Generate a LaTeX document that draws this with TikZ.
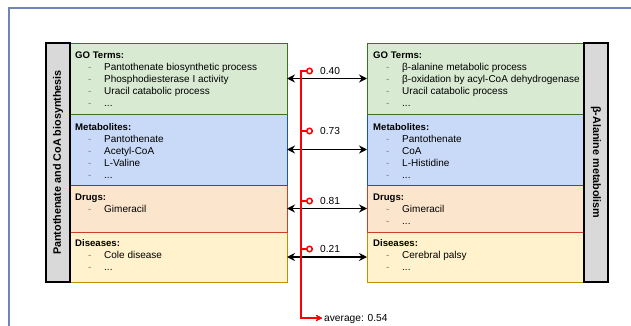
\documentclass[tikz,border=0pt]{standalone}
\usepackage{fontspec}
\setmainfont{Liberation Sans}
\usepackage{xcolor}
\definecolor{cGoFill}{HTML}{D9EAD3}
\definecolor{cGoLine}{HTML}{38761D}
\definecolor{cMetFill}{HTML}{C9DAF8}
\definecolor{cMetLine}{HTML}{1155CC}
\definecolor{cDrugFill}{HTML}{FCE5CD}
\definecolor{cDrugLine}{HTML}{CC4125}
\definecolor{cDisFill}{HTML}{FFF2CC}
\definecolor{cDisLine}{HTML}{BF9000}
\definecolor{cName}{HTML}{D9D9D9}
\definecolor{cFrame}{HTML}{6F86B5}
\definecolor{cAvg}{HTML}{FF0000}
\usetikzlibrary{positioning,arrows.meta}
\tikzset{
  sec-box/.style={draw,line width=0.9pt,outer sep=0pt,inner sep=0pt,minimum width=217pt},
  sec-go/.style={sec-box,draw=cGoLine,fill=cGoFill,minimum height=71pt},
  sec-met/.style={sec-box,draw=cMetLine,fill=cMetFill,minimum height=71pt},
  sec-drug/.style={sec-box,draw=cDrugLine,fill=cDrugFill,minimum height=47pt},
  sec-dis/.style={sec-box,draw=cDisLine,fill=cDisFill,minimum height=50pt},
  sec-text/.style={anchor=north west,inner sep=0pt,align=left,font=\fontsize{10}{12}\selectfont},
  name-col/.style={draw=black,line width=1.1pt,fill=cName,outer sep=0pt,inner sep=0pt,
    minimum width=239pt,minimum height=24pt,font=\bfseries\fontsize{10.8}{12}\selectfont},
  arrow-pair/.style={{Stealth[length=8pt,width=8pt]}-{Stealth[length=8pt,width=8pt]},line width=1.8pt},
  arrow-avg/.style={{Circle[open,length=7pt,width=7pt]}-{Stealth[length=6pt,width=6pt]},
    line width=1.5pt,draw=cAvg},
  score-label/.style={anchor=west,inner xsep=7pt,inner ysep=0pt,font=\fontsize{10.2}{12}\selectfont},
  frame-line/.style={draw=cFrame,line width=1.2pt},
}
\newcommand{\itm}[1]{\\\hspace*{13pt}\makebox[16pt][l]{\textcolor{black!50}{-}}#1}
\newcommand{\sectitle}[1]{{\bfseries\fontsize{9.6}{12}\selectfont #1}}

\begin{document}
\begin{tikzpicture}[x=1pt,y=-1pt]
  \useasboundingbox (0,0) rectangle (631,326);
  \draw[frame-line] (631,8) -- (9,8) -- (9,326);

  % left pathway
  \node[sec-dis,anchor=south west] (ldis) at (70,282) {};
  \node[sec-drug,above=0pt of ldis] (ldrug) {};
  \node[sec-met,above=0pt of ldrug] (lmet) {};
  \node[sec-go,above=0pt of lmet] (lgo) {};
  \node[name-col,rotate=90,anchor=south west] (lname) at (ldis.south west) {Pantothenate and CoA biosynthesis};

  \node[sec-text] (tlgo) at ([xshift=5pt,yshift=-9pt]lgo.north west)
    {\sectitle{GO Terms:}\itm{Pantothenate biosynthetic process}\itm{Phosphodiesterase I activity}\itm{Uracil catabolic process}\itm{...}};
  \node[sec-text] (tlmet) at ([xshift=5pt,yshift=-9pt]lmet.north west)
    {\sectitle{Metabolites:}\itm{Pantothenate}\itm{Acetyl-CoA}\itm{L-Valine}\itm{...}};
  \node[sec-text] (tldrug) at ([xshift=5pt,yshift=-9pt]ldrug.north west)
    {\sectitle{Drugs:}\itm{Gimeracil}};
  \node[sec-text] (tldis) at ([xshift=5pt,yshift=-7pt]ldis.north west)
    {\sectitle{Diseases:}\itm{Cole disease}\itm{...}};

  % right pathway
  \node[sec-dis,anchor=south west] (rdis) at (367,282) {};
  \node[sec-drug,above=0pt of rdis] (rdrug) {};
  \node[sec-met,above=0pt of rdrug] (rmet) {};
  \node[sec-go,above=0pt of rmet] (rgo) {};
  \node[name-col,rotate=-90,anchor=south west] (rname) at (rgo.north east) {β-Alanine metabolism};

  \node[sec-text] (trgo) at ([xshift=6pt,yshift=-9pt]rgo.north west)
    {\sectitle{GO Terms:}\itm{β-alanine metabolic process}\itm{β-oxidation by acyl-CoA dehydrogenase}\itm{Uracil catabolic process}\itm{...}};
  \node[sec-text] (trmet) at ([xshift=6pt,yshift=-9pt]rmet.north west)
    {\sectitle{Metabolites:}\itm{Pantothenate}\itm{CoA}\itm{L-Histidine}\itm{...}};
  \node[sec-text] (trdrug) at ([xshift=6pt,yshift=-9pt]rdrug.north west)
    {\sectitle{Drugs:}\itm{Gimeracil}\itm{...}};
  \node[sec-text] (trdis) at ([xshift=6pt,yshift=-7pt]rdis.north west)
    {\sectitle{Diseases:}\itm{Cerebral palsy}\itm{...}};

  % similarity scores
  \node[score-label] (sgo) at (313,71) {0.40};
  \node[score-label] (smet) at (313,131) {0.73};
  \node[score-label] (sdrug) at (313,201) {0.81};
  \node[score-label] (sdis) at (313,249) {0.21};
  \node[score-label,inner xsep=2pt] (avg) at (322,319) {average: 0.54};
  \coordinate (bus) at (301,318);

  \draw[arrow-pair] (lgo.east) -- (rgo.west);
  \draw[arrow-pair] (lmet.east) -- (rmet.west);
  \draw[arrow-pair] (ldrug.east) -- (rdrug.west);
  \draw[arrow-pair] (ldis.east) -- (rdis.west);

  \draw[arrow-avg] (sgo.west) -| (bus) -- (bus -| avg.west);
  \draw[arrow-avg] (smet.west) -| (bus) -- (bus -| avg.west);
  \draw[arrow-avg] (sdrug.west) -| (bus) -- (bus -| avg.west);
  \draw[arrow-avg] (sdis.west) -| (bus) -- (bus -| avg.west);
\end{tikzpicture}
\end{document}
